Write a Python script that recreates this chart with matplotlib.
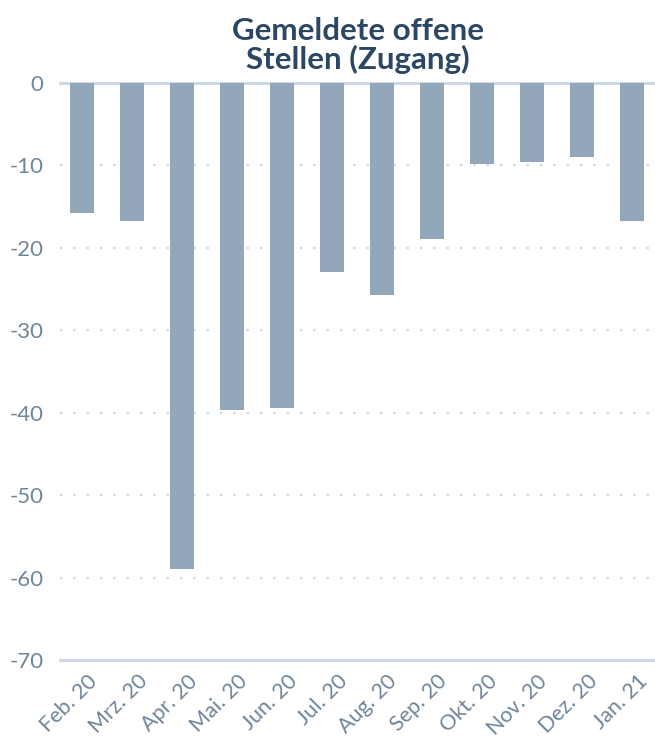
import matplotlib
matplotlib.use("Agg")
import numpy as np
from matplotlib import pyplot as plt
from matplotlib import transforms

# Daten: Veraenderung gegenueber Vorjahresmonat in %
monate = ["Feb. 20", "Mrz. 20", "Apr. 20", "Mai. 20", "Jun. 20", "Jul. 20",
          "Aug. 20", "Sep. 20", "Okt. 20", "Nov. 20", "Dez. 20", "Jan. 21"]
werte = [-15.8, -16.7, -59.0, -39.7, -39.4, -22.9,
         -25.7, -18.9, -9.8, -9.6, -9.0, -16.7]
y_ticks = [0, -10, -20, -30, -40, -50, -60, -70]

plt.rcParams['font.family'] = ['Lato', 'DejaVu Sans']

bar_farbe = "#93a7bb"
text_farbe = "#6f859b"
linie_farbe = "#c9d6e6"
titel_farbe = "#2b4763"

fig = plt.figure(figsize=(6.55, 7.4), dpi=100)
ax = fig.add_axes([60 / 655, 1 - 660 / 740, 1 - 60 / 655, (660 - 83) / 740])

x = np.arange(len(monate))
ax.bar(x, werte, width=0.48, color=bar_farbe, zorder=2)

ax.set_ylim(-70, 0)
ax.set_xlim(-0.44, 11.46)
ax.set_yticks(y_ticks)
ax.set_yticklabels([str(v) for v in y_ticks])

# Gitterlinien: 0 und -70 durchgezogen, dazwischen gepunktet
for v in y_ticks:
    if v in (0, -70):
        ax.axhline(v, color=linie_farbe, lw=2, zorder=1, clip_on=False)
    else:
        ax.axhline(v, color=linie_farbe, lw=1.6, ls=(0, (1, 5)), zorder=1)

for s in ax.spines.values():
    s.set_visible(False)

ax.tick_params(axis='y', length=0, pad=12, labelsize=16, labelcolor=text_farbe)
ax.tick_params(axis='x', length=0, pad=8, labelsize=15.5, labelcolor=text_farbe)
ax.set_xticks(x)
ax.set_xticklabels(monate, rotation=45, ha='right', rotation_mode='anchor')
versatz = transforms.ScaledTranslation(5 / 100, 0, fig.dpi_scale_trans)
for lab in ax.get_xticklabels():
    lab.set_transform(lab.get_transform() + versatz)

fig.text(358 / 655, 1 - 17 / 740, "Gemeldete offene\nStellen (Zugang)",
         ha='center', va='top', fontsize=22.5, fontweight='bold',
         color=titel_farbe, linespacing=1.0)

fig.savefig("out.png", dpi=100)
